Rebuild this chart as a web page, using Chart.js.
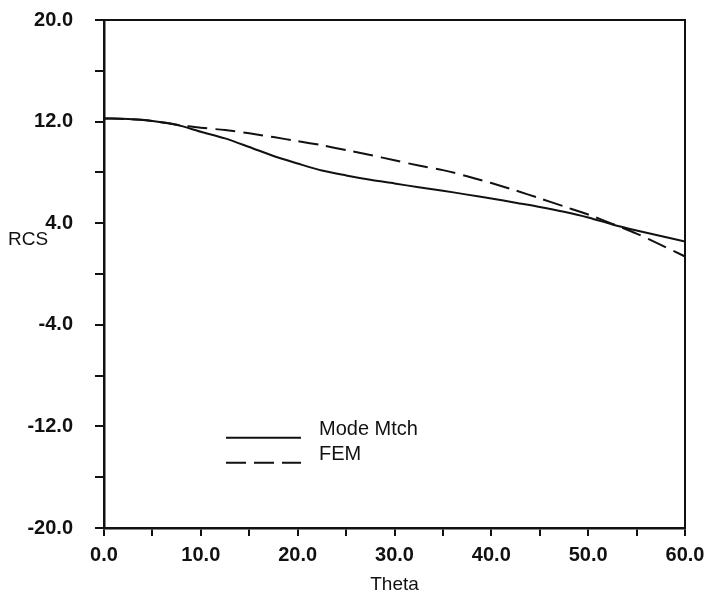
<!DOCTYPE html>
<html>
<head>
<meta charset="utf-8">
<title>RCS vs Theta</title>
<script src="https://cdn.jsdelivr.net/npm/chart.js@4.4.1/dist/chart.umd.min.js"></script>
<style>
  html, body { margin: 0; padding: 0; background: #fff; }
  canvas { display: block; }
</style>
</head>
<body>
<canvas id="rcs" width="712" height="601"></canvas>
<script>
// theta samples (degrees)
const theta = [0, 2.5, 5, 7.5, 10, 12.5, 15, 17.5, 20, 22.5, 25, 27.5, 30,
  32.5, 35, 37.5, 40, 42.5, 45, 47.5, 50, 52.5, 55, 57.5, 60];

// mode matching solution
const modeMtch = [12.25, 12.2, 12.05, 11.75, 11.2, 10.68, 10.0, 9.29, 8.7, 8.15,
  7.76, 7.42, 7.13, 6.83, 6.56, 6.25, 5.95, 5.61, 5.28, 4.9, 4.45, 3.9, 3.43, 3.0, 2.55];

// finite element solution
const fem = [12.25, 12.2, 12.05, 11.75, 11.52, 11.33, 11.08, 10.78, 10.46, 10.14,
  9.75, 9.37, 8.95, 8.54, 8.18, 7.7, 7.16, 6.58, 5.96, 5.32, 4.68, 3.95, 3.18, 2.29, 1.38];

const seriesNames = ['Mode Mtch', 'FEM'];

const FONT = '"Liberation Sans", Arial, Helvetica, sans-serif';
const INK = '#111';

function toPoints(ys) {
  return theta.map((t, i) => ({ x: t, y: ys[i] }));
}

// frame, horizontal "RCS" label and the in-plot legend
const decorations = {
  id: 'decorations',
  afterDraw(chart, args, opts) {
    const { ctx, chartArea, scales } = chart;
    ctx.save();

    ctx.strokeStyle = INK;
    ctx.lineWidth = 2;
    ctx.strokeRect(chartArea.left, chartArea.top,
      chartArea.right - chartArea.left, chartArea.bottom - chartArea.top);

    ctx.fillStyle = INK;
    ctx.font = '19px ' + FONT;
    ctx.textBaseline = 'middle';
    ctx.textAlign = 'left';
    ctx.fillText(opts.yTitle, scales.y.left + 8, scales.y.getPixelForValue(4) + 17);

    const x0 = scales.x.getPixelForValue(opts.legendAt.x);
    let y0 = scales.y.getPixelForValue(opts.legendAt.y);
    ctx.font = '20px ' + FONT;
    chart.data.datasets.forEach(ds => {
      ctx.beginPath();
      ctx.lineWidth = ds.borderWidth;
      ctx.setLineDash(ds.borderDash || []);
      ctx.moveTo(x0, y0);
      ctx.lineTo(x0 + 75, y0);
      ctx.stroke();
      ctx.setLineDash([]);
      ctx.fillText(ds.label, x0 + 93, y0 - 8);
      y0 += 25;
    });
    ctx.restore();
  }
};

new Chart(document.getElementById('rcs'), {
  type: 'line',
  data: {
    datasets: [
      {
        label: seriesNames[0],
        data: toPoints(modeMtch),
        borderColor: INK,
        borderWidth: 2,
        pointRadius: 0,
        tension: 0.3
      },
      {
        label: seriesNames[1],
        data: toPoints(fem),
        borderColor: INK,
        borderWidth: 2,
        borderDash: [20, 8],
        pointRadius: 0,
        tension: 0.3
      }
    ]
  },
  options: {
    responsive: false,
    animation: false,
    layout: { padding: { top: 20, right: 27, left: 0, bottom: 0 } },
    plugins: {
      legend: { display: false },
      tooltip: { enabled: false },
      decorations: { yTitle: 'RCS', legendAt: { x: 12.6, y: -12.9 } }
    },
    scales: {
      x: {
        type: 'linear',
        min: 0,
        max: 60,
        afterFit: s => { s.height = 73; },
        ticks: {
          stepSize: 5,
          autoSkip: false,
          maxRotation: 0,
          padding: 7,
          color: INK,
          font: { family: FONT, size: 20, weight: 'bold' },
          callback: v => (v % 10 === 0 ? v.toFixed(1) : '')
        },
        grid: { drawOnChartArea: false, drawTicks: true, tickLength: 8, color: INK, lineWidth: 2 },
        border: { display: true, color: INK, width: 2.5 },
        title: {
          display: true,
          text: 'Theta',
          color: INK,
          font: { family: FONT, size: 19 },
          padding: { top: 0, bottom: 5 }
        }
      },
      y: {
        min: -20,
        max: 20,
        // the wide label gap would otherwise push the plot down
        afterFit: s => { s.width = 104; s.paddingTop = 0; s.paddingBottom = 0; },
        ticks: {
          stepSize: 4,
          autoSkip: false,
          padding: 22,
          color: INK,
          font: { family: FONT, size: 20, weight: 'bold' },
          callback: v => ((v + 20) % 8 === 0 ? v.toFixed(1) : '')
        },
        grid: { drawOnChartArea: false, drawTicks: true, tickLength: 9, color: INK, lineWidth: 2 },
        border: { display: true, color: INK, width: 2.5 }
      }
    }
  },
  plugins: [decorations]
});
</script>
</body>
</html>
